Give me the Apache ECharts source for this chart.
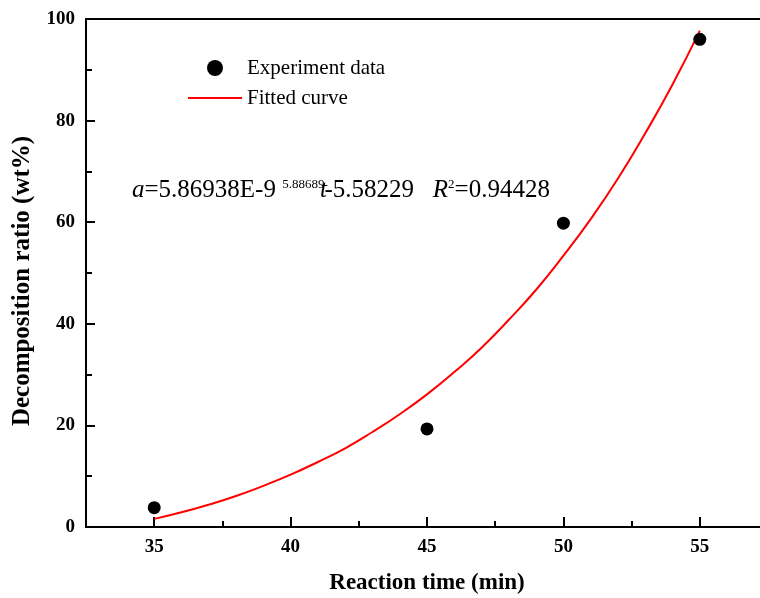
<!DOCTYPE html>
<html>
<head>
<meta charset="utf-8">
<script src="https://cdn.jsdelivr.net/npm/echarts@6/dist/echarts.min.js"></script>
<style>
  html, body { margin: 0; padding: 0; background: #fff; }
  #chart { width: 760px; height: 598px; }
</style>
</head>
<body>
<div id="chart"></div>
<script>
// measured points
const expTime = [35, 45, 50, 55]
const expRatio = [3.8, 19.3, 59.8, 96.0]

// fitted curve
const fitTime = [35, 36, 37, 38, 39, 40, 41, 42, 43, 44, 45, 46, 47, 48, 49, 50, 51, 52, 53, 54, 55]
const fitRatio = [1.6, 2.9, 4.4, 6.1, 8.1, 10.3, 12.8, 15.5, 18.7, 22.2, 26.1, 30.5, 35.3, 40.8, 46.7, 53.4, 60.6, 68.6, 77.5, 87.1, 97.7]

const xTicks = [35, 40, 45, 50, 55]
const xMinorTicks = [37.5, 42.5, 47.5, 52.5]
const yTicks = [0, 20, 40, 60, 80, 100]

const font = '"Liberation Serif", "Times New Roman", serif'

const chart = echarts.init(document.getElementById('chart'), null, { renderer: 'canvas' })

const tickLine = { color: '#000', width: 2 }

const option = {
  animation: false,
  backgroundColor: '#fff',
  grid: {
    left: 86,
    top: 19,
    width: 682,
    bottom: 71,
    outerBoundsMode: 'none',
    containLabel: false,
    show: true,
    borderColor: '#000',
    borderWidth: 2
  },
  legend: {
    orient: 'vertical',
    left: 188,
    top: 57,
    padding: 0,
    itemWidth: 54,
    itemHeight: 16,
    itemGap: 8,
    textStyle: { fontFamily: font, fontSize: 21, color: '#000', lineHeight: 22 },
    data: [
      { name: 'Experiment data' },
      { name: 'Fitted curve', icon: 'path://M0,0H270V10H0Z' }
    ]
  },
  xAxis: [
    {
      type: 'value',
      min: 32.5,
      max: 57.5,
      interval: 5,
      name: 'Reaction time (min)',
      nameLocation: 'middle',
      nameGap: 45,
      nameTextStyle: { fontFamily: font, fontWeight: 'bold', fontSize: 23, color: '#000' },
      axisLine: { onZero: false, lineStyle: { color: '#000', width: 2 } },
      axisTick: { inside: true, length: 10, lineStyle: tickLine, customValues: xTicks },
      splitLine: { show: false },
      axisLabel: {
        customValues: xTicks,
        margin: 11,
        fontFamily: font,
        fontWeight: 'bold',
        fontSize: 19,
        color: '#000'
      }
    },
    {
      // minor ticks only
      type: 'value',
      position: 'bottom',
      min: 32.5,
      max: 57.5,
      axisLine: { show: false },
      axisTick: { inside: true, length: 6, lineStyle: tickLine, customValues: xMinorTicks },
      axisLabel: { show: false },
      splitLine: { show: false }
    }
  ],
  yAxis: {
    type: 'value',
    min: 0,
    max: 100,
    interval: 20,
    axisLine: { lineStyle: { color: '#000', width: 2 } },
    axisTick: { inside: true, length: 9, lineStyle: tickLine },
    minorTick: { show: true, splitNumber: 2, length: 6, lineStyle: tickLine },
    splitLine: { show: false },
    axisLabel: {
      margin: 11,
      fontFamily: font,
      fontWeight: 'bold',
      fontSize: 19,
      color: '#000',
      formatter: v => (yTicks.includes(v) ? String(v) : '')
    }
  },
  graphic: [
    {
      type: 'text',
      x: 23,
      y: 281,
      rotation: Math.PI / 2,
      style: {
        text: 'Decomposition ratio (wt%)',
        font: 'bold 25px ' + font,
        fill: '#000',
        align: 'center',
        verticalAlign: 'middle'
      }
    },
    {
      type: 'text',
      left: 132,
      top: 178,
      style: {
        text: '{i|a}=5.86938E-9 {sup|5.88689}-5.58229   {i|R}{sup|2}=0.94428',
        fontFamily: font,
        fontSize: 25,
        fill: '#000',
        rich: {
          i: { fontFamily: font, fontSize: 25, fontStyle: 'italic', fill: '#000' },
          sup: { fontFamily: font, fontSize: 13, fill: '#000', verticalAlign: 'top' }
        }
      }
    },
    {
      type: 'text',
      left: 320,
      top: 178,
      style: {
        text: 't',
        font: 'italic 25px ' + font,
        fill: '#000'
      }
    }
  ],
  series: [
    {
      name: 'Fitted curve',
      type: 'line',
      data: fitTime.map((t, i) => [t, fitRatio[i]]),
      smooth: true,
      showSymbol: false,
      symbol: 'none',
      lineStyle: { color: '#ff0000', width: 2 },
      itemStyle: { color: '#ff0000' },
      z: 2
    },
    {
      name: 'Experiment data',
      type: 'scatter',
      data: expTime.map((t, i) => [t, expRatio[i]]),
      symbol: 'circle',
      symbolSize: 13,
      itemStyle: { color: '#000', opacity: 1 },
      z: 3
    }
  ]
}

chart.setOption(option)
</script>
</body>
</html>
